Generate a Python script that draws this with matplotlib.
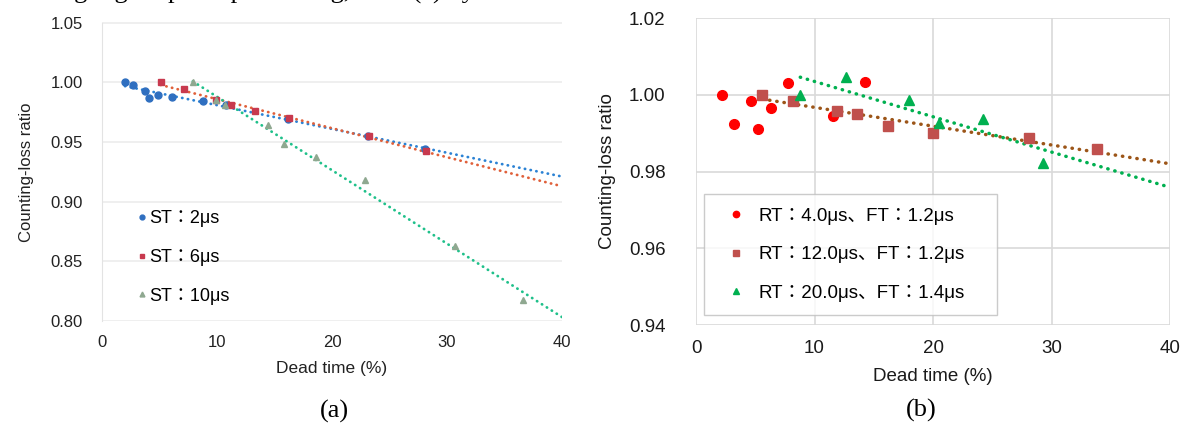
import numpy as np
import matplotlib
matplotlib.use("Agg")
import matplotlib.pyplot as plt

plt.rcParams['font.family'] = ['Liberation Sans', 'Noto Sans CJK JP', 'DejaVu Sans']

# (a) ST series
st2_x = [2.0, 2.7, 3.7, 4.1, 4.9, 6.1, 8.8, 10.8, 16.2, 23.1, 28.1]
st2_y = [1.000, 0.9975, 0.993, 0.987, 0.989, 0.988, 0.984, 0.981, 0.969, 0.955, 0.944]
st6_x = [5.1, 7.1, 9.9, 11.2, 13.3, 16.3, 23.2, 28.2]
st6_y = [1.000, 0.994, 0.985, 0.981, 0.976, 0.970, 0.955, 0.942]
st10_x = [7.9, 9.9, 10.7, 14.4, 15.8, 18.6, 22.9, 30.7, 36.6]
st10_y = [1.000, 0.985, 0.981, 0.964, 0.948, 0.9375, 0.918, 0.8625, 0.8175]

# (b) RT/FT series
rt4_x = [2.2, 3.2, 4.6, 5.2, 6.3, 7.8, 11.6, 14.3]
rt4_y = [1.000, 0.9924, 0.9984, 0.9910, 0.9965, 1.0030, 0.9945, 1.0034]
rt12_x = [5.6, 8.2, 11.9, 13.6, 16.2, 20.0, 28.1, 33.8]
rt12_y = [1.000, 0.9984, 0.9958, 0.9949, 0.9919, 0.9900, 0.9887, 0.9859]
rt20_x = [8.8, 12.7, 18.0, 20.5, 24.2, 29.3]
rt20_y = [1.000, 1.0045, 0.9987, 0.9926, 0.9937, 0.9821]

labels_a = ["ST：2μs", "ST：6μs", "ST：10μs"]
labels_b = ["RT：4.0μs、FT：1.2μs", "RT：12.0μs、FT：1.2μs", "RT：20.0μs、FT：1.4μs"]

W, H = 1182, 423
fig = plt.figure(figsize=(W / 100, H / 100), dpi=100)


def trend(ax, x, y, color, lw, gap):
    # linear trend line, drawn from the first point to the right edge
    k, b = np.polyfit(x, y, 1)
    xs = np.array([min(x), 40])
    ax.plot(xs, k * xs + b, color=color, lw=lw, linestyle=(0, (0.1, gap)),
            dash_capstyle='round', zorder=2)


# ---- panel (a)
ax1 = fig.add_axes([102 / W, 1 - 321 / H, 460 / W, 298.5 / H])
ax1.set_xlim(0, 40)
ax1.set_ylim(0.80, 1.05)
ax1.set_xticks([0, 10, 20, 30, 40])
ax1.set_yticks([0.80, 0.85, 0.90, 0.95, 1.00, 1.05])
ax1.yaxis.set_major_formatter(matplotlib.ticker.FormatStrFormatter('%.2f'))
ax1.grid(axis='y', color='#ececec', lw=1.2)
for s in ['top', 'right', 'bottom']:
    ax1.spines[s].set_visible(False)
ax1.spines['left'].set_color('#e3e3e3')
ax1.tick_params(axis='y', length=0, labelsize=12, colors='#222222', pad=14)
ax1.tick_params(axis='x', length=0, labelsize=12, colors='#222222', pad=10)
ax1.set_axisbelow(True)

trend(ax1, st2_x, st2_y, '#2b82d4', 2.0, 2.0)
trend(ax1, st6_x, st6_y, '#e0603a', 2.0, 2.0)
trend(ax1, st10_x, st10_y, '#1fc08a', 2.0, 2.0)
ax1.plot(st2_x, st2_y, 'o', color='#2f6fc0', ms=5, label=labels_a[0], zorder=3)
ax1.plot(st6_x, st6_y, 's', color='#c8394e', ms=5, label=labels_a[1], zorder=3)
ax1.plot(st10_x, st10_y, '^', color='#8fa890', ms=5, label=labels_a[2], zorder=3)
ax1.set_xlabel("Dead time (%)", fontsize=12.5, color='#222222', labelpad=8)
ax1.set_ylabel("Counting-loss ratio", fontsize=12, color='#222222', labelpad=12)
leg1 = ax1.legend(loc='lower left', bbox_to_anchor=(0.04, 0.0), frameon=False,
                  fontsize=13, markerscale=0.7, handlelength=0.6, handletextpad=0.1,
                  labelspacing=1.2)

# ---- panel (b)
ax2 = fig.add_axes([696 / W, 1 - 325 / H, 474 / W, 307 / H])
ax2.set_xlim(0, 40)
ax2.set_ylim(0.94, 1.02)
ax2.set_xticks([0, 10, 20, 30, 40])
ax2.set_yticks([0.94, 0.96, 0.98, 1.00, 1.02])
ax2.yaxis.set_major_formatter(matplotlib.ticker.FormatStrFormatter('%.2f'))
ax2.grid(color='#d9d9d9', lw=1.2)
for s in ax2.spines.values():
    s.set_visible(False)
ax2.tick_params(axis='y', length=0, labelsize=13.5, colors='#1a1a1a', pad=22)
ax2.tick_params(axis='x', length=0, labelsize=13.5, colors='#1a1a1a', pad=11)
ax2.set_axisbelow(True)

trend(ax2, rt12_x, rt12_y, '#9c5518', 2.5, 2.0)
trend(ax2, rt20_x, rt20_y, '#00b050', 2.5, 2.0)
ax2.plot(rt4_x, rt4_y, 'o', color='#ff0000', ms=7, label=labels_b[0], zorder=3)
ax2.plot(rt12_x, rt12_y, 's', color='#c0504d', ms=7, label=labels_b[1], zorder=3)
ax2.plot(rt20_x, rt20_y, '^', color='#00b050', ms=6.5, label=labels_b[2], zorder=3)
ax2.set_xlabel("Dead time (%)", fontsize=13.5, color='#1a1a1a', labelpad=8)
ax2.set_ylabel("Counting-loss ratio", fontsize=13.5, color='#1a1a1a', labelpad=9)
leg2 = ax2.legend(loc='lower left', bbox_to_anchor=(8 / 474, 10 / 307, 293 / 474, 119 / 307),
                  mode='expand', frameon=True, fancybox=False, fontsize=13.5,
                  markerscale=0.65, handlelength=2.0, handletextpad=0.2,
                  labelspacing=1.15, borderpad=0.7, borderaxespad=0)
leg2.get_frame().set_edgecolor('#bfbfbf')
leg2.get_frame().set_linewidth(1.0)

# captions
fig.text(334 / W, 1 - 411 / H, "(a)", ha='center', va='center',
         family='Liberation Serif', fontsize=19)
fig.text(921 / W, 1 - 410 / H, "(b)", ha='center', va='center',
         family='Liberation Serif', fontsize=19)
# cut-off text line from the page above (only the descenders show)
fig.text(30 / W, 1 + 1.5 / H, "using digital pulse processing, as in (a) by", ha='left',
         va='baseline', family='Liberation Serif', fontsize=19)

fig.savefig("out.png", dpi=100, facecolor='white')
